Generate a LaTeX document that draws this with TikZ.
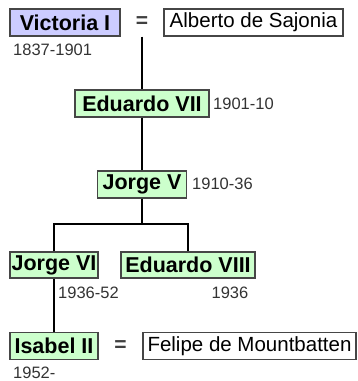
\documentclass[tikz,border=0pt]{standalone}
\usepackage{fontspec}
\setmainfont{Liberation Sans}
\definecolor{lila}{RGB}{204,204,255}
\definecolor{verde}{RGB}{204,255,204}
\definecolor{borde}{RGB}{70,70,70}
\begin{document}
\begin{tikzpicture}[x=1pt,y=-1pt,
    rey/.style={draw=borde,line width=1.2pt,fill=verde,inner sep=0pt,minimum height=27pt,font=\fontsize{21.5}{22}\selectfont\bfseries},
    consorte/.style={draw=borde,line width=1.2pt,fill=white,inner sep=0pt,minimum height=27pt,font=\fontsize{20.5}{21}\selectfont},
    fecha/.style={inner sep=0pt,text=black!80,font=\fontsize{16.5}{17}\selectfont},
    igual/.style={inner sep=0pt,text=black!75,font=\fontsize{21}{21}\selectfont\bfseries},
    linea/.style={line width=2pt}]
    \useasboundingbox (0,0) rectangle (357,381);
    % generacion 1
    \node[rey,fill=lila,minimum width=110pt] (victoria) at (65,22.5) {Victoria I};
    \node[igual] (eq1) at (142,22.5) {=};
    \node[consorte,minimum width=179pt] (alberto) at (253.5,22.5) {Alberto de Sajonia};
    \node[fecha,anchor=west] (fvictoria) at (13,50) {1837-1901};
    % generacion 2 y 3
    \node[rey,minimum width=134pt] (eduardo7) at (142,103.5) {Eduardo VII};
    \node[fecha,anchor=west] (feduardo7) at (213,104) {1901-10};
    \node[rey,minimum width=89pt] (jorge5) at (142,184.5) {Jorge V};
    \node[fecha,anchor=west] (fjorge5) at (192,183.5) {1910-36};
    % generacion 4
    \node[rey,minimum width=88pt,minimum height=26pt] (jorge6) at (54,265) {Jorge VI};
    \node[rey,minimum width=134pt,minimum height=26pt] (eduardo8) at (188,265) {Eduardo VIII};
    \node[fecha,anchor=west] (fjorge6) at (58,293) {1936-52};
    \node[fecha] (feduardo8) at (230,293) {1936};
    % generacion 5
    \node[rey,minimum width=88pt] (isabel) at (54,346) {Isabel II};
    \node[igual] (eq2) at (120.5,346) {=};
    \node[consorte,minimum width=213pt] (felipe) at (249.5,346) {Felipe de Mountbatten};
    \node[fecha,anchor=west] (fisabel) at (13,372.5) {1952-};
    % lineas
    \coordinate (rama) at (142,224);
    \draw[linea] (eq1 |- victoria.south) -- (eduardo7.north);
    \draw[linea] (eduardo7.south) -- (jorge5.north);
    \draw[linea] (jorge5.south) -- (rama);
    \draw[linea] (jorge6.north) |- (rama) -| (eduardo8.north);
    \draw[linea] (jorge6.south) -- (isabel.north);
\end{tikzpicture}
\end{document}
